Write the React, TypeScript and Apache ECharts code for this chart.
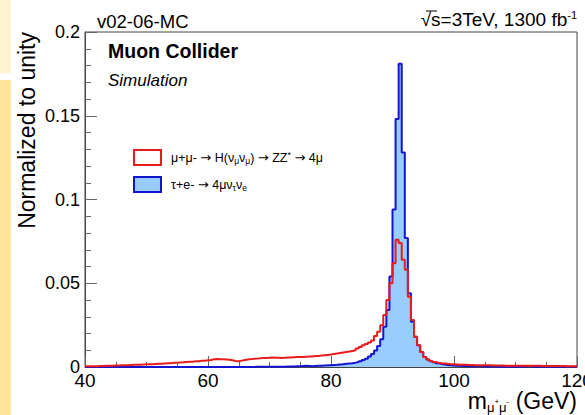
import React, { useEffect, useRef } from "react";
import * as echarts from "echarts";

// ---- data (normalized bin contents, 0.5 GeV bins starting at 40 GeV) ----
const BIN_START = 40;
const BIN_WIDTH = 0.5;
const X_TICKS = [40, 60, 80, 100, 120];
const Y_TICKS = [0, 0.05, 0.1, 0.15, 0.2];

const SIGNAL_NAME = "μ+μ- → H(νμνμ) → ZZ* → 4μ";
const BKG_NAME = "τ+e- → 4μντνe";

// red: mu+mu- -> H(nu nu) -> ZZ* -> 4mu
const SIGNAL = [
  0.0004, 0.0004, 0.0005, 0.0005, 0.0006, 0.0006, 0.0007, 0.0007, 0.0008, 0.0009,
  0.0009, 0.0010, 0.0011, 0.0011, 0.0012, 0.0013, 0.0013, 0.0014, 0.0015, 0.0016,
  0.0016, 0.0017, 0.0018, 0.0019, 0.0020, 0.0021, 0.0022, 0.0023, 0.0025, 0.0026,
  0.0027, 0.0028, 0.0030, 0.0031, 0.0032, 0.0034, 0.0035, 0.0037, 0.0038, 0.0040,
  0.0042, 0.0046, 0.0048, 0.0047, 0.0046, 0.0045, 0.0043, 0.0040, 0.0036, 0.0034,
  0.0038, 0.0042, 0.0045, 0.0047, 0.0049, 0.0050, 0.0052, 0.0053, 0.0054, 0.0055,
  0.0056, 0.0055, 0.0055, 0.0054, 0.0055, 0.0056, 0.0057, 0.0058, 0.0059, 0.0060,
  0.0060, 0.0061, 0.0062, 0.0063, 0.0065, 0.0066, 0.0068, 0.0070, 0.0072, 0.0074,
  0.0077, 0.0080, 0.0083, 0.0086, 0.0089, 0.0092, 0.0096, 0.0100, 0.0110, 0.0120,
  0.0130, 0.0138, 0.0146, 0.0158, 0.0185, 0.0210, 0.0250, 0.0310, 0.0400, 0.0500,
  0.0620, 0.0760, 0.0740, 0.0640, 0.0580, 0.0420, 0.0280, 0.0180, 0.0130, 0.0090,
  0.0060, 0.0045, 0.0036, 0.0030, 0.0026, 0.0023, 0.0021, 0.0019, 0.0017, 0.0016,
  0.0015, 0.0014, 0.0014, 0.0013, 0.0012, 0.0012, 0.0011, 0.0011, 0.0011, 0.0010,
  0.0010, 0.0010, 0.0009, 0.0009, 0.0009, 0.0009, 0.0008, 0.0008, 0.0008, 0.0008,
  0.0008, 0.0008, 0.0007, 0.0007, 0.0007, 0.0007, 0.0007, 0.0007, 0.0006, 0.0006,
  0.0006, 0.0006, 0.0006, 0.0006, 0.0006, 0.0006, 0.0005, 0.0005, 0.0005, 0.0005,
];

// blue: tau+e- -> 4mu nu nu
const BACKGROUND = [
  0, 0, 0, 0, 0, 0, 0, 0, 0, 0,
  0, 0, 0, 0, 0, 0, 0, 0, 0, 0,
  0, 0, 0, 0, 0, 0, 0, 0, 0, 0,
  0, 0, 0, 0, 0, 0, 0, 0, 0, 0,
  0, 0, 0, 0, 0, 0, 0, 0, 0, 0,
  0, 0, 0, 0, 0, 0.0001, 0.0001, 0.0001, 0.0001, 0.0001,
  0.0001, 0.0002, 0.0002, 0.0002, 0.0002, 0.0003, 0.0003, 0.0003, 0.0004, 0.0004,
  0.0006, 0.0007, 0.0006, 0.0005, 0.0006, 0.0007, 0.0008, 0.0009, 0.0010, 0.0011,
  0.0012, 0.0013, 0.0015, 0.0017, 0.0019, 0.0021, 0.0023, 0.0026, 0.0030, 0.0035,
  0.0042, 0.0050, 0.0062, 0.0078, 0.0098, 0.0125, 0.0165, 0.0240, 0.0340, 0.0540,
  0.0940, 0.1480, 0.1810, 0.1280, 0.0770, 0.0440, 0.0270, 0.0180, 0.0130, 0.0090,
  0.0060, 0.0045, 0.0035, 0.0028, 0.0022, 0.0018, 0.0015, 0.0012, 0.0010, 0.0009,
  0.0008, 0.0007, 0.0006, 0.0006, 0.0005, 0.0005, 0.0004, 0.0004, 0.0004, 0.0003,
  0.0003, 0.0003, 0.0003, 0.0003, 0.0002, 0.0002, 0.0002, 0.0002, 0.0002, 0.0002,
  0.0002, 0.0002, 0.0002, 0.0004, 0.0005, 0.0002, 0.0001, 0.0001, 0.0001, 0.0001,
  0.0001, 0.0001, 0.0001, 0.0001, 0.0001, 0.0001, 0.0001, 0.0001, 0.0001, 0.0001,
];

const FONT = '"Liberation Sans", Arial, Helvetica, sans-serif';
const ARROW_FONT = '"DejaVu Sans", sans-serif';
const RED = "#e81c1c";
const BLUE = "#1515d0";
const FILL = "#99ccff";

function toSteps(values: number[]): number[][] {
  const pts = values.map((v, i) => [BIN_START + i * BIN_WIDTH, v]);
  pts.push([BIN_START + values.length * BIN_WIDTH, values[values.length - 1]]);
  return pts;
}

export default function App() {
  const ref = useRef<HTMLDivElement>(null);

  useEffect(() => {
    if (!ref.current) return;
    const chart = echarts.init(ref.current, null, { renderer: "svg" });
    const xMin = X_TICKS[0];
    const xMax = X_TICKS[X_TICKS.length - 1];
    const yMax = Y_TICKS[Y_TICKS.length - 1];

    chart.setOption({
      animation: false,
      backgroundColor: "#ffffff",
      grid: {
        left: 85,
        right: 8,
        top: 32,
        bottom: 48,
        containLabel: false,
        outerBoundsMode: "none",
        show: true,
        borderColor: "#444",
        borderWidth: 1,
        backgroundColor: "transparent",
      },
      xAxis: {
        type: "value",
        min: xMin,
        max: xMax,
        interval: X_TICKS[1] - X_TICKS[0],
        axisLine: { show: true, onZero: false, lineStyle: { color: "#444", width: 1 } },
        axisTick: { show: true, inside: true, length: 11, lineStyle: { color: "#666" } },
        minorTick: { show: true, splitNumber: 4, length: 5, lineStyle: { color: "#666" } },
        splitLine: { show: false },
        axisLabel: {
          fontSize: 19,
          color: "#000",
          margin: 4,
          fontFamily: FONT,
          showMinLabel: true,
          showMaxLabel: true,
          alignMaxLabel: "center",
          alignMinLabel: "center",
        },
      },
      yAxis: {
        type: "value",
        min: Y_TICKS[0],
        max: yMax,
        interval: Y_TICKS[1] - Y_TICKS[0],
        axisLine: { show: true, lineStyle: { color: "#444", width: 1 } },
        axisTick: { show: true, inside: true, length: 12, lineStyle: { color: "#666" } },
        minorTick: { show: true, splitNumber: 5, length: 6, lineStyle: { color: "#666" } },
        splitLine: { show: false },
        axisLabel: { fontSize: 18, color: "#000", margin: 5, fontFamily: FONT },
      },
      legend: {
        orient: "vertical",
        left: 133,
        top: 149,
        padding: 0,
        itemWidth: 27,
        itemHeight: 15,
        itemGap: 10,
        icon: "rect",
        selectedMode: false,
        data: [
          { name: SIGNAL_NAME, itemStyle: { color: "#ffffff", borderColor: RED, borderWidth: 2 } },
          { name: BKG_NAME, itemStyle: { color: FILL, borderColor: BLUE, borderWidth: 2 } },
        ],
        formatter: (name: string) =>
          name === SIGNAL_NAME
            ? "{n|μ+μ- }{a|→}{n| H(ν}{s|μ}{n|ν}{s|μ}{n|) }{a|→}{n| ZZ}{p|*}{n| }{a|→}{n| 4μ}"
            : "{n|τ+e- }{a|→}{n| 4μν}{s|τ}{n|ν}{s|e}",
        textStyle: {
          fontFamily: FONT,
          fontSize: 12.5,
          color: "#000",
          padding: [0, 0, 0, 5],
          rich: {
            n: { fontSize: 12.5, lineHeight: 15, fontFamily: FONT, color: "#000" },
            a: { fontSize: 13, lineHeight: 15, fontFamily: ARROW_FONT, color: "#000" },
            s: { fontSize: 8.5, lineHeight: 6, verticalAlign: "bottom", fontFamily: FONT, color: "#000" },
            p: { fontSize: 9, lineHeight: 8, verticalAlign: "top", fontFamily: FONT, color: "#000" },
          },
        },
      },
      series: [
        {
          name: BKG_NAME,
          type: "line",
          step: "end",
          data: toSteps(BACKGROUND),
          symbol: "none",
          showSymbol: false,
          lineStyle: { color: BLUE, width: 2 },
          itemStyle: { color: BLUE },
          areaStyle: { color: FILL, opacity: 1 },
          z: 2,
        },
        {
          name: SIGNAL_NAME,
          type: "line",
          step: "end",
          data: toSteps(SIGNAL),
          symbol: "none",
          showSymbol: false,
          lineStyle: { color: RED, width: 2 },
          itemStyle: { color: RED },
          z: 3,
        },
      ],
      graphic: [
        { type: "rect", z: -10, shape: { x: 0, y: 0, width: 11, height: 73 }, style: { fill: "#fff3d3" } },
        { type: "rect", z: -10, shape: { x: 0, y: 80, width: 11, height: 335 }, style: { fill: "#ffe49b" } },
        {
          type: "text",
          x: 97,
          y: 21,
          style: { text: "v02-06-MC", fontSize: 18.5, fontFamily: FONT, fill: "#000", align: "left", verticalAlign: "middle" },
        },
        {
          type: "text",
          x: 577,
          y: 19,
          style: {
            text: "{n|√s=3TeV, 1300 fb}{p|-1}",
            align: "right",
            verticalAlign: "middle",
            fontFamily: FONT,
            fill: "#000",
            rich: {
              n: { fontSize: 19, lineHeight: 20, fontFamily: FONT, fill: "#000" },
              p: { fontSize: 11, lineHeight: 10, verticalAlign: "top", fontFamily: FONT, fill: "#000" },
            },
          },
        },
        { type: "line", shape: { x1: 426, y1: 11, x2: 437, y2: 11 }, style: { stroke: "#000", lineWidth: 1 } },
        {
          type: "text",
          x: 108,
          y: 51,
          style: { text: "Muon Collider", fontSize: 19.5, fontWeight: "bold", fontFamily: FONT, fill: "#000", align: "left", verticalAlign: "middle" },
        },
        {
          type: "text",
          x: 108,
          y: 80.5,
          style: { text: "Simulation", fontSize: 17, fontStyle: "italic", fontFamily: FONT, fill: "#000", align: "left", verticalAlign: "middle" },
        },
        {
          type: "text",
          x: 27,
          y: 32,
          rotation: Math.PI / 2,
          style: { text: "Normalized to unity", fontSize: 23, fontFamily: FONT, fill: "#000", align: "right", verticalAlign: "middle" },
        },
        {
          type: "text",
          x: 577,
          y: 401,
          style: {
            text: "{m|m}{s|μ}{ss|+}{s|μ}{ss|-}{m| (GeV)}",
            align: "right",
            verticalAlign: "middle",
            fontFamily: FONT,
            fill: "#000",
            rich: {
              m: { fontSize: 23, lineHeight: 26, fontFamily: FONT, fill: "#000" },
              s: { fontSize: 13, lineHeight: 16, verticalAlign: "bottom", fontFamily: FONT, fill: "#000" },
              ss: { fontSize: 8, lineHeight: 8, fontFamily: FONT, fill: "#000" },
            },
          },
        },
      ],
    });
    return () => chart.dispose();
  }, []);

  return (
    <div
      ref={ref}
      style={{ position: "absolute", left: 0, top: 0, width: 585, height: 415, background: "#fff" }}
    />
  );
}
